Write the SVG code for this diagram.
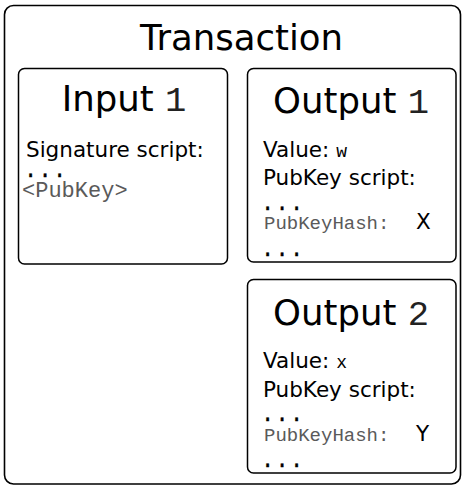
<svg xmlns="http://www.w3.org/2000/svg" width="466" height="489" viewBox="0 0 466 489">
<style>
.box{fill:#fff;stroke:#000;stroke-width:1.5}
.outer{fill:#fff;stroke:#000;stroke-width:1.6}
.h{font-family:"DejaVu Sans",Verdana,sans-serif;font-size:35.5px;fill:#000}
.t{font-family:"DejaVu Sans",Verdana,sans-serif;font-size:21.5px;fill:#000}
.m{font-family:"Liberation Mono","Courier New",Courier,monospace}
.hd{fill:#222}
.g{fill:#5a5a5a}
.dots{font-family:"Liberation Mono","Courier New",Courier,monospace;font-size:22px;letter-spacing:1.3px;fill:#000;stroke:#000;stroke-width:0.3}
</style>
<g id="transaction">
<rect class="outer" x="4.5" y="5.5" width="456" height="478.5" rx="9"/>
<text class="h" x="241.5" y="50" text-anchor="middle">Transaction</text>
</g>
<g id="input1">
<rect class="box" x="18.5" y="68.5" width="209" height="195.5" rx="6"/>
<text class="h" x="124" y="111" text-anchor="middle">Input <tspan class="m hd">1</tspan></text>
<text class="t" x="26" y="157">Signature script:</text>
<text class="dots" x="24" y="177">...</text>
<text class="m g" x="22" y="197" font-size="22">&lt;PubKey&gt;</text>
</g>
<g id="output1">
<rect class="box" x="247.5" y="68.5" width="208.5" height="193.5" rx="6"/>
<text class="h" x="351" y="113" text-anchor="middle">Output <tspan class="m hd">1</tspan></text>
<text class="t" x="263" y="157">Value: <tspan class="m" font-size="18">w</tspan></text>
<text class="t" x="263" y="185">PubKey script:</text>
<text class="dots" x="261" y="210">...</text>
<text class="m g" x="264" y="229" font-size="19">PubKeyHash:</text>
<text class="t" x="416" y="229">X</text>
<text class="dots" x="261" y="256">...</text>
</g>
<g id="output2">
<rect class="box" x="247.5" y="279.5" width="208.5" height="193.5" rx="6"/>
<text class="h" x="351" y="325" text-anchor="middle">Output <tspan class="m hd">2</tspan></text>
<text class="t" x="263" y="368">Value: <tspan class="m" font-size="18">x</tspan></text>
<text class="t" x="263" y="397">PubKey script:</text>
<text class="dots" x="261" y="421">...</text>
<text class="m g" x="264" y="441" font-size="19">PubKeyHash:</text>
<text class="t" x="416" y="441">Y</text>
<text class="dots" x="261" y="467">...</text>
</g>
<g id="connectors"></g>
</svg>
